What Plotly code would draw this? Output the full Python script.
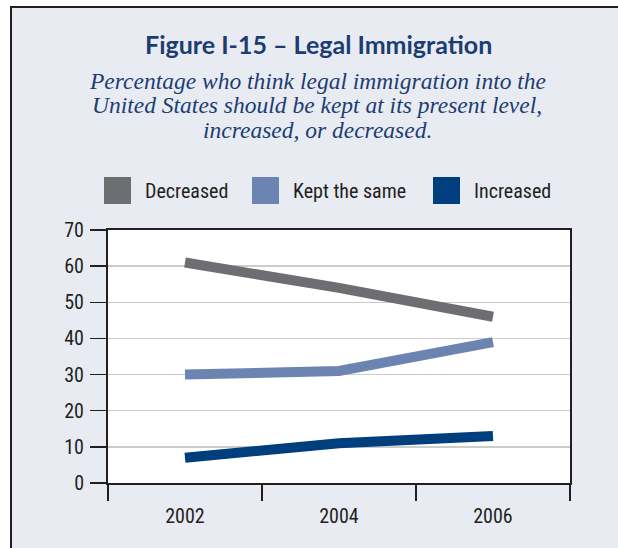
import plotly.graph_objects as go

# ---- data ----
years = ["2002", "2004", "2006"]
decreased = [61, 54, 46]
kept_same = [30, 31, 39]
increased = [7, 11, 13]
series_names = ["Decreased", "Kept the same", "Increased"]
series_colors = ["#6d6e71", "#6b84b1", "#003e7e"]
y_ticks = [0, 10, 20, 30, 40, 50, 60, 70]

title_text = "Figure I-15 – Legal Immigration"
subtitle_lines = [
    "Percentage who think legal immigration into the",
    "United States should be kept at its present level,",
    "increased, or decreased.",
]

# ---- layout geometry (page pixels) ----
W, H = 618, 548
L, R, T, B = 108, 570, 230, 483
NAVY = "#1c3d72"
DARK = "#231f20"
BG = "#e8ebf2"
NARROW = "Liberation Sans Narrow, Roboto Condensed, Arial Narrow, Liberation Sans, sans-serif"


def px_x(px):
    return (px - L) / (R - L)


def px_y(py):
    return (B - py) / (B - T)


fig = go.Figure()
for name, vals, col in zip(series_names, [decreased, kept_same, increased], series_colors):
    fig.add_trace(go.Scatter(
        x=years, y=vals, name=name, mode="lines",
        line=dict(color=col, width=10),
        showlegend=False, hoverinfo="skip",
    ))

annotations = []
shapes = []

# title & subtitle
annotations.append(dict(
    text="<b>" + title_text + "</b>", xref="paper", yref="paper",
    x=px_x(318), y=px_y(44), xanchor="center", yanchor="middle",
    showarrow=False, font=dict(family="Lato, Open Sans, sans-serif", size=25, color=NAVY),
))
for i, line in enumerate(subtitle_lines):
    annotations.append(dict(
        text="<i>" + line + "</i>", xref="paper", yref="paper",
        x=px_x(317), y=px_y(80.5 + 24.5 * i), xanchor="center", yanchor="middle",
        showarrow=False, font=dict(family="Liberation Serif, serif", size=23.5, color=NAVY),
    ))

# custom legend (large square keys)
key_x = [104, 252, 433]
for name, col, kx in zip(series_names, series_colors, key_x):
    shapes.append(dict(
        type="rect", xref="paper", yref="paper",
        x0=px_x(kx), x1=px_x(kx + 27), y0=px_y(177), y1=px_y(204),
        fillcolor=col, line=dict(width=0), layer="above",
    ))
    annotations.append(dict(
        text=name, xref="paper", yref="paper",
        x=px_x(kx + 39), y=px_y(190.5), xanchor="left", yanchor="middle",
        showarrow=False, font=dict(family=NARROW, size=20, color=DARK),
    ))

# outer frame: white strips at top/left with dark border lines
shapes.append(dict(type="rect", xref="paper", yref="paper",
                   x0=px_x(-5), x1=px_x(W + 5), y0=px_y(-5), y1=px_y(6),
                   fillcolor="white", line=dict(width=0), layer="above"))
shapes.append(dict(type="rect", xref="paper", yref="paper",
                   x0=px_x(-5), x1=px_x(10), y0=px_y(-5), y1=px_y(H + 5),
                   fillcolor="white", line=dict(width=0), layer="above"))
shapes.append(dict(type="line", xref="paper", yref="paper",
                   x0=px_x(10), x1=px_x(W + 5), y0=px_y(7), y1=px_y(7),
                   line=dict(color=DARK, width=2), layer="above"))
shapes.append(dict(type="line", xref="paper", yref="paper",
                   x0=px_x(11), x1=px_x(11), y0=px_y(6), y1=px_y(H + 5),
                   line=dict(color=DARK, width=2), layer="above"))

fig.update_layout(
    width=W, height=H,
    margin=dict(l=L, r=W - R, t=T, b=H - B, pad=0),
    paper_bgcolor=BG, plot_bgcolor="white",
    showlegend=False,
    annotations=annotations, shapes=shapes,
    xaxis=dict(
        type="category", categoryorder="array", categoryarray=years,
        range=[-0.5, 2.5], tickson="boundaries",
        ticks="outside", ticklen=16, tickwidth=1.5, tickcolor=DARK,
        showline=True, linecolor=DARK, linewidth=2, mirror=True,
        showgrid=False, zeroline=False,
        tickfont=dict(family=NARROW, size=20, color=DARK),
        ticklabelstandoff=14,
    ),
    yaxis=dict(
        range=[0, 70], tickmode="array", tickvals=y_ticks,
        ticks="outside", ticklen=16, tickwidth=1.5, tickcolor=DARK,
        showline=True, linecolor=DARK, linewidth=2, mirror=True,
        showgrid=True, gridcolor="#cccccc", gridwidth=1.5, zeroline=False,
        tickfont=dict(family=NARROW, size=20, color=DARK),
        ticklabelstandoff=2,
    ),
)

fig.write_html(
    "out.html",
    config={"displayModeBar": False, "staticPlot": True},
    post_script="document.body.style.margin='0';document.body.style.overflow='hidden';"
                "document.documentElement.style.overflow='hidden';",
)
